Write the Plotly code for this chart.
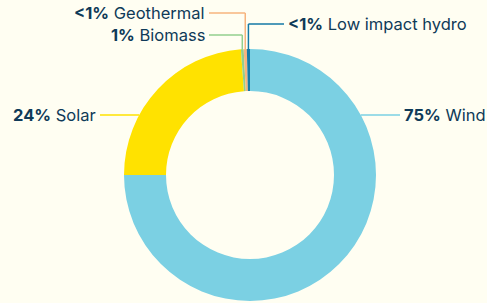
import math
import plotly.graph_objects as go

# ---- data ----
labels = ["Wind", "Solar", "Biomass", "Geothermal", "Low impact hydro"]
values = [75.0, 23.85, 0.35, 0.4, 0.4]
pct_text = ["75%", "24%", "1%", "<1%", "<1%"]
colors = ["#7bd0e3", "#ffe200", "#93cf8e", "#f7b47e", "#1579a6"]

# ---- layout constants (pixels) ----
W, H = 487, 303
CX, CY, R = 250, 175, 126
HOLE = 84 / 126
BG = "#fffef2"
TXT = "#0f3a58"
FONT = "Inter"
FSIZE = 16.5

fig = go.Figure()
fig.add_trace(go.Pie(
    labels=labels, values=values, sort=False, direction="clockwise", rotation=0,
    hole=HOLE, marker=dict(colors=colors, line=dict(width=0)),
    textinfo="none", hoverinfo="label+percent", showlegend=False,
    domain=dict(x=[(CX - R) / W, (CX + R) / W], y=[(H - CY - R) / H, (H - CY + R) / H]),
))

def px(x):
    return x / W

def py(y):
    return 1 - y / H

# mid angles of each slice (clockwise from 12 o'clock)
total = sum(values)
mids = []
acc = 0
for v in values:
    mids.append((acc + v / 2) / total * 2 * math.pi)
    acc += v

def ring_point(a, r=R):
    return CX + r * math.sin(a), CY - r * math.cos(a)

shapes = []
annotations = []

def line(x0, y0, x1, y1, color):
    shapes.append(dict(type="line", xref="paper", yref="paper", x0=px(x0), y0=py(y0),
                       x1=px(x1), y1=py(y1), line=dict(color=color, width=1.5)))

def label(i, x, y, anchor):
    annotations.append(dict(xref="paper", yref="paper", x=px(x), y=py(y), xanchor=anchor,
                            yanchor="middle", showarrow=False,
                            text=f"<b>{pct_text[i]}</b> {labels[i]}",
                            font=dict(family=FONT, size=FSIZE, color=TXT)))

# Wind (right, horizontal leader)
ly = 115
xr = CX + math.sqrt(R**2 - (CY - ly) ** 2)
line(xr, ly, 400, ly, colors[0])
label(0, 402, ly, "left")

# Solar (left, horizontal leader)
xl = CX - math.sqrt(R**2 - (CY - ly) ** 2)
line(100, ly, xl, ly, colors[1])
label(1, 98, ly, "right")

# small slices: elbow leaders from the top of the ring
small = [(2, 35, 209, "right", 207), (3, 13, 209, "right", 207), (4, 24, 284, "left", 286)]
for i, y, xend, anchor, tx in small:
    x0, y0 = ring_point(mids[i])
    line(x0, y0 + 0.5, x0, y, colors[i])
    line(x0, y, xend, y, colors[i])
    label(i, tx, y, anchor)

fig.update_layout(
    width=W, height=H, margin=dict(l=0, r=0, t=0, b=0),
    paper_bgcolor=BG, plot_bgcolor=BG,
    shapes=shapes, annotations=annotations,
)
fig.write_html("out.html", config={"displayModeBar": False},
               post_script="document.body.style.margin='0';document.body.style.background='" + BG + "';")
